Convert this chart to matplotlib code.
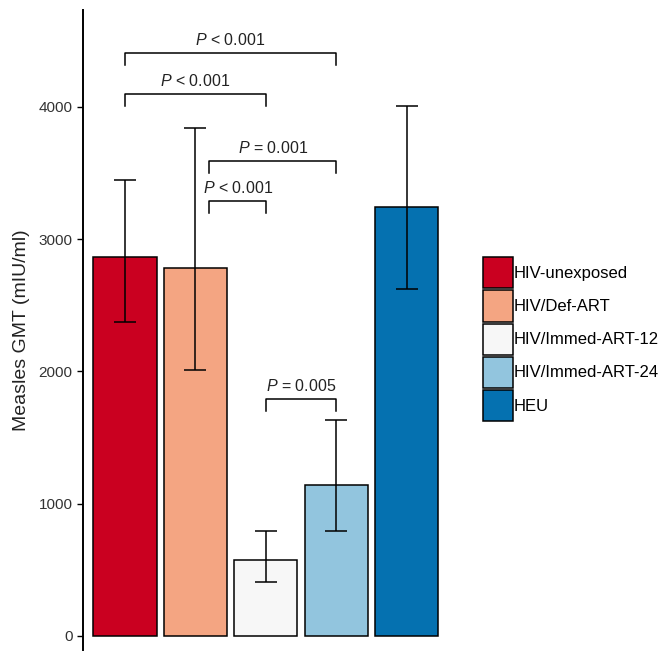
import matplotlib
matplotlib.use("Agg")
import matplotlib.pyplot as plt
from matplotlib.patches import Patch

plt.rcParams['font.family'] = ['Liberation Sans', 'DejaVu Sans']
plt.rcParams['mathtext.fontset'] = 'custom'
plt.rcParams['mathtext.it'] = 'Liberation Sans:italic'
plt.rcParams['mathtext.rm'] = 'Liberation Sans'

# data
groups = ["HIV-unexposed", "HIV/Def-ART", "HIV/Immed-ART-12", "HIV/Immed-ART-24", "HEU"]
gmt = [2866, 2783, 575, 1142, 3244]
ci_low = [2375, 2010, 410, 790, 2620]
ci_high = [3450, 3840, 795, 1632, 4010]
colors = ["#CA0020", "#F4A582", "#F7F7F7", "#92C5DE", "#0571B0"]

# significance brackets: left bar, right bar, height, label
br_left = [0, 0, 1.2, 1.2, 2]
br_right = [3, 2, 3, 2, 3]
br_y = [4408, 4098, 3592, 3289, 1792]
br_text = [r"$P$ < 0.001", r"$P$ < 0.001", r"$P$ = 0.001", r"$P$ < 0.001", r"$P$ = 0.005"]

fig = plt.figure(figsize=(6.64, 6.58), dpi=100)
ax = fig.add_axes([0.125, 0.0122, 0.551, 0.9726])

x = range(len(groups))
yerr = [[g - lo for g, lo in zip(gmt, ci_low)], [hi - g for g, hi in zip(gmt, ci_high)]]
ax.bar(x, gmt, width=0.9, color=colors, edgecolor="black", linewidth=1.1)
ax.errorbar(x, gmt, yerr=yerr, fmt="none", ecolor="black", elinewidth=1.1,
            capsize=8, capthick=1.1)

drop = 90
for l, r, y, t in zip(br_left, br_right, br_y, br_text):
    ax.plot([l, l, r, r], [y - drop, y, y, y - drop], color="black", lw=1.1)
    ax.text((l + r) / 2, y + 35, t, ha="center", va="bottom", fontsize=11.5, color="#222222")

ax.set_xlim(-0.596, 4.6)
ax.set_ylim(-106, 4733)
ax.set_yticks([0, 1000, 2000, 3000, 4000])
ax.set_xticks([])
ax.tick_params(axis="y", labelsize=11, labelcolor="#333333", length=4, width=1)
ax.set_ylabel("Measles GMT (mIU/ml)", fontsize=14, color="#222222", labelpad=6)
for s in ["top", "right", "bottom"]:
    ax.spines[s].set_visible(False)
ax.spines["left"].set_linewidth(1.4)

handles = [Patch(facecolor=c, edgecolor="black", linewidth=1.1) for c in colors]
fig.legend(handles, groups, loc="upper left", bbox_to_anchor=(0.727, 0.609),
           frameon=False, fontsize=12, handlelength=1.8, handleheight=2.5,
           labelspacing=0.12, handletextpad=0.05, borderpad=0, borderaxespad=0)

fig.savefig("out.png", dpi=100)
